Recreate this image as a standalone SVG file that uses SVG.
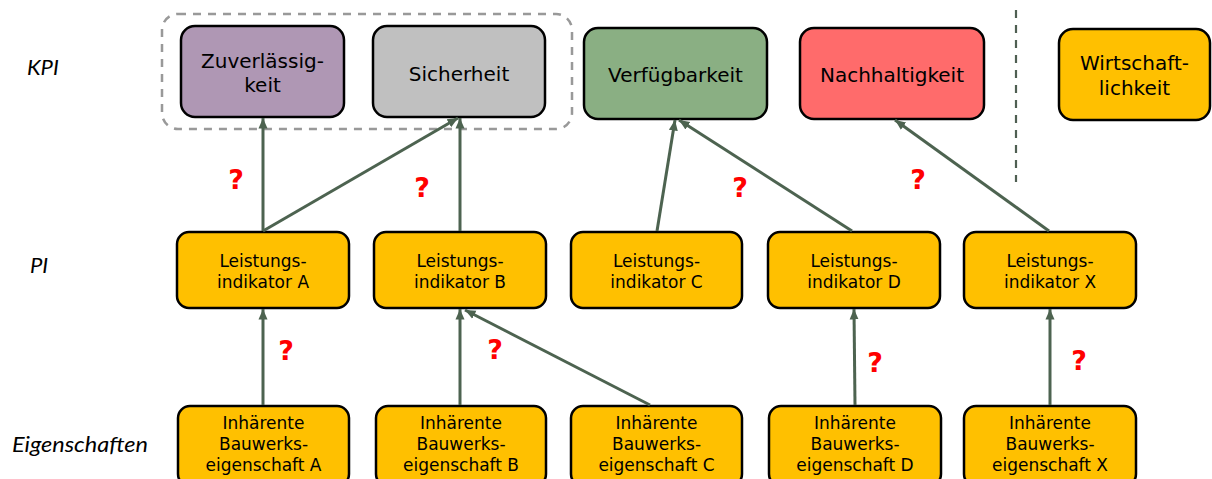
<svg xmlns="http://www.w3.org/2000/svg" width="1212" height="479" viewBox="0 0 1212 479">
<style>
.box{stroke:#000;stroke-width:2.5}
.pi{fill:#FFC000}
.t{font-family:"DejaVu Sans",sans-serif;fill:#000;text-anchor:middle}
.t20{font-size:20px}
.t17{font-size:17px}
.lbl{font-family:Lato,"Open Sans",sans-serif;font-style:italic;font-size:22px;fill:#000}
.q{font-family:"DejaVu Sans",sans-serif;font-weight:bold;font-size:27px;fill:#FF0000;text-anchor:middle}
.con line{stroke:#4D6350;stroke-width:3;marker-end:url(#ah)}
</style>
<defs>
<marker id="ah" markerUnits="userSpaceOnUse" markerWidth="12" markerHeight="12" viewBox="0 0 12 12" refX="10.5" refY="6" orient="auto">
<path d="M0,1.5 L10.5,6 L0,10.5 Z" fill="#4D6350"/>
</marker>
</defs>
<rect width="1212" height="479" fill="#fff"/>

<!-- row labels -->
<text class="lbl" x="27" y="75">KPI</text>
<text class="lbl" x="30" y="273">PI</text>
<text class="lbl" x="12" y="452" textLength="136" lengthAdjust="spacingAndGlyphs">Eigenschaften</text>

<!-- dashed group and separator -->
<rect x="162" y="14" width="410" height="115" rx="16" fill="none" stroke="#999" stroke-width="2.5" stroke-dasharray="8,7"/>
<line x1="1016" y1="10" x2="1016" y2="182" stroke="#4F5F52" stroke-width="2.2" stroke-dasharray="8,7"/>

<!-- KPI nodes -->
<g id="kpi-zuverlaessigkeit">
<rect class="box" x="181" y="26" width="163" height="91" rx="14" fill="#AF97B4"/>
<text class="t t20" x="262.5" y="68">Zuverlässig-</text>
<text class="t t20" x="262.5" y="92">keit</text>
</g>
<g id="kpi-sicherheit">
<rect class="box" x="373" y="26" width="172" height="91" rx="14" fill="#C0C0C0"/>
<text class="t t20" x="459" y="81">Sicherheit</text>
</g>
<g id="kpi-verfuegbarkeit">
<rect class="box" x="584" y="28" width="183" height="91" rx="14" fill="#8AAF83"/>
<text class="t t20" x="675.5" y="82">Verfügbarkeit</text>
</g>
<g id="kpi-nachhaltigkeit">
<rect class="box" x="800" y="28" width="184" height="91" rx="14" fill="#FF6B6B"/>
<text class="t t20" x="892" y="82">Nachhaltigkeit</text>
</g>
<g id="kpi-wirtschaftlichkeit">
<rect class="box pi" x="1059" y="29" width="151" height="91" rx="14"/>
<text class="t t20" x="1134.5" y="70">Wirtschaft-</text>
<text class="t t20" x="1134.5" y="95">lichkeit</text>
</g>

<!-- PI nodes -->
<g id="pi-a">
<rect class="box pi" x="177" y="232" width="172" height="76" rx="12"/>
<text class="t t17" x="263" y="266.5">Leistungs-</text>
<text class="t t17" x="263" y="288">indikator A</text>
</g>
<g id="pi-b">
<rect class="box pi" x="374" y="232" width="172" height="76" rx="12"/>
<text class="t t17" x="460" y="266.5">Leistungs-</text>
<text class="t t17" x="460" y="288">indikator B</text>
</g>
<g id="pi-c">
<rect class="box pi" x="571" y="232" width="171" height="76" rx="12"/>
<text class="t t17" x="656.5" y="266.5">Leistungs-</text>
<text class="t t17" x="656.5" y="288">indikator C</text>
</g>
<g id="pi-d">
<rect class="box pi" x="768" y="232" width="172" height="76" rx="12"/>
<text class="t t17" x="854" y="266.5">Leistungs-</text>
<text class="t t17" x="854" y="288">indikator D</text>
</g>
<g id="pi-x">
<rect class="box pi" x="964" y="232" width="172" height="76" rx="12"/>
<text class="t t17" x="1050" y="266.5">Leistungs-</text>
<text class="t t17" x="1050" y="288">indikator X</text>
</g>

<!-- Eigenschaften nodes -->
<g id="eig-a">
<rect class="box pi" x="178" y="406" width="171" height="80" rx="12"/>
<text class="t t17" x="263.5" y="429">Inhärente</text>
<text class="t t17" x="263.5" y="450">Bauwerks-</text>
<text class="t t17" x="263.5" y="470.5">eigenschaft A</text>
</g>
<g id="eig-b">
<rect class="box pi" x="376" y="406" width="170" height="80" rx="12"/>
<text class="t t17" x="461" y="429">Inhärente</text>
<text class="t t17" x="461" y="450">Bauwerks-</text>
<text class="t t17" x="461" y="470.5">eigenschaft B</text>
</g>
<g id="eig-c">
<rect class="box pi" x="571" y="406" width="171" height="80" rx="12"/>
<text class="t t17" x="656.5" y="429">Inhärente</text>
<text class="t t17" x="656.5" y="450">Bauwerks-</text>
<text class="t t17" x="656.5" y="470.5">eigenschaft C</text>
</g>
<g id="eig-d">
<rect class="box pi" x="769" y="406" width="172" height="80" rx="12"/>
<text class="t t17" x="855" y="429">Inhärente</text>
<text class="t t17" x="855" y="450">Bauwerks-</text>
<text class="t t17" x="855" y="470.5">eigenschaft D</text>
</g>
<g id="eig-x">
<rect class="box pi" x="964" y="406" width="172" height="80" rx="12"/>
<text class="t t17" x="1050" y="429">Inhärente</text>
<text class="t t17" x="1050" y="450">Bauwerks-</text>
<text class="t t17" x="1050" y="470.5">eigenschaft X</text>
</g>

<!-- connectors -->
<g id="connectors" class="con">
<line x1="263" y1="405" x2="263" y2="309"/>
<line x1="460" y1="405" x2="460" y2="309"/>
<line x1="650" y1="405" x2="465" y2="310"/>
<line x1="855" y1="405" x2="854" y2="309"/>
<line x1="1050" y1="405" x2="1050" y2="309"/>
<line x1="263" y1="231" x2="263" y2="118"/>
<line x1="263" y1="231" x2="458" y2="118"/>
<line x1="460" y1="231" x2="460" y2="118"/>
<line x1="657" y1="231" x2="675" y2="120"/>
<line x1="852" y1="231" x2="679" y2="120"/>
<line x1="1049" y1="231" x2="895" y2="120"/>
</g>

<!-- question marks -->
<g id="questions">
<text class="q" x="236" y="189">?</text>
<text class="q" x="422" y="197">?</text>
<text class="q" x="740" y="197">?</text>
<text class="q" x="918" y="189">?</text>
<text class="q" x="286" y="360">?</text>
<text class="q" x="495" y="359">?</text>
<text class="q" x="875" y="372">?</text>
<text class="q" x="1079" y="370">?</text>
</g>
</svg>
